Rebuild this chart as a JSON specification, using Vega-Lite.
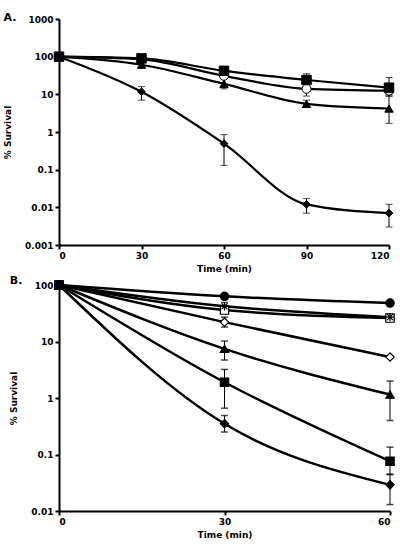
{
  "$schema": "https://vega.github.io/schema/vega-lite/v6.json",
  "padding": {"left": 3, "top": 12, "right": 8, "bottom": 0},
  "background": "white",
  "spacing": 2,
  "columns": 1,
  "align": "none",
  "resolve": {"scale": {"shape": "independent", "fill": "independent", "size": "independent"}},
  "config": {
    "font": "DejaVu Sans",
    "view": {"stroke": null},
    "axis": {
      "grid": false,
      "domainColor": "black",
      "domainWidth": 2,
      "tickColor": "black",
      "tickWidth": 2,
      "tickSize": 4,
      "labelFont": "DejaVu Sans",
      "labelFontWeight": "bold",
      "labelFontSize": 9,
      "labelColor": "black",
      "titleFont": "DejaVu Sans",
      "titleFontWeight": "bold",
      "titleFontSize": 9,
      "titleColor": "black"
    },
    "title": {"font": "DejaVu Sans", "fontWeight": "bold", "fontSize": 11, "anchor": "start", "frame": "bounds", "offset": -8, "color": "black"}
  },
  "datasets": {
    "A": [
      {"s": "a2", "t": 0, "v": 100},
      {"s": "a2", "t": 30, "v": 85},
      {"s": "a2", "t": 60, "v": 31},
      {"s": "a2", "t": 90, "v": 14, "lo": 9, "hi": 21},
      {"s": "a2", "t": 120, "v": 12.5, "lo": 9, "hi": 17},
      {"s": "a3", "t": 0, "v": 100},
      {"s": "a3", "t": 30, "v": 61, "lo": 52, "hi": 70},
      {"s": "a3", "t": 60, "v": 19, "lo": 14, "hi": 26},
      {"s": "a3", "t": 90, "v": 5.6, "lo": 4.5, "hi": 7},
      {"s": "a3", "t": 120, "v": 4.2, "lo": 1.7, "hi": 10},
      {"s": "a4", "t": 0, "v": 100},
      {"s": "a4", "t": 30, "v": 11.7, "lo": 7, "hi": 16},
      {"s": "a4", "t": 60, "v": 0.49, "lo": 0.13, "hi": 0.85},
      {"s": "a4", "t": 90, "v": 0.012, "lo": 0.007, "hi": 0.017},
      {"s": "a4", "t": 120, "v": 0.007, "lo": 0.003, "hi": 0.012},
      {"s": "a1", "t": 0, "v": 100},
      {"s": "a1", "t": 30, "v": 90},
      {"s": "a1", "t": 60, "v": 42},
      {"s": "a1", "t": 90, "v": 24, "lo": 16, "hi": 35},
      {"s": "a1", "t": 120, "v": 15, "lo": 9, "hi": 28}
    ],
    "B": [
      {"s": "b1", "t": 0, "v": 100},
      {"s": "b1", "t": 30, "v": 63},
      {"s": "b1", "t": 60, "v": 48},
      {"s": "b3", "t": 0, "v": 100},
      {"s": "b3", "t": 30, "v": 36},
      {"s": "b3", "t": 60, "v": 26},
      {"s": "b2", "t": 0, "v": 100},
      {"s": "b2", "t": 30, "v": 42, "lo": 36, "hi": 49},
      {"s": "b2", "t": 60, "v": 27, "lo": 24, "hi": 30},
      {"s": "b4", "t": 0, "v": 100},
      {"s": "b4", "t": 30, "v": 22, "lo": 18, "hi": 27},
      {"s": "b4", "t": 60, "v": 5.3},
      {"s": "b5", "t": 0, "v": 100},
      {"s": "b5", "t": 30, "v": 7.4, "lo": 4.7, "hi": 10.2},
      {"s": "b5", "t": 60, "v": 1.15, "lo": 0.4, "hi": 2.0},
      {"s": "b7", "t": 0, "v": 100},
      {"s": "b7", "t": 30, "v": 0.35, "lo": 0.25, "hi": 0.49},
      {"s": "b7", "t": 60, "v": 0.029, "lo": 0.013, "hi": 0.045},
      {"s": "b6", "t": 0, "v": 100},
      {"s": "b6", "t": 30, "v": 1.9, "lo": 0.66, "hi": 3.2},
      {"s": "b6", "t": 60, "v": 0.076, "lo": 0.044, "hi": 0.135}
    ]
  },
  "concat": [
    {
      "title": "A.",
      "width": 330,
      "height": 226,
      "data": {"name": "A"},
      "encoding": {
        "x": {"field": "t", "type": "quantitative", "scale": {"domain": [0, 120], "nice": false}, "axis": {"values": [0, 30, 60, 90, 120], "title": "Time (min)", "titlePadding": 4}}
      },
      "layer": [
        {
          "mark": {"type": "rule", "stroke": "black", "strokeWidth": 1},
          "encoding": {
            "y": {"field": "lo", "type": "quantitative", "scale": {"type": "log", "domain": [0.001, 1000], "nice": false}},
            "y2": {"field": "hi"}
          }
        },
        {
          "mark": {"type": "point", "shape": "M-1,0L1,0", "stroke": "black", "strokeWidth": 1, "size": 50, "filled": false},
          "encoding": {"y": {"field": "lo", "type": "quantitative"}}
        },
        {
          "mark": {"type": "point", "shape": "M-1,0L1,0", "stroke": "black", "strokeWidth": 1, "size": 50, "filled": false},
          "encoding": {"y": {"field": "hi", "type": "quantitative"}}
        },
        {
          "mark": {"type": "line", "interpolate": "monotone", "stroke": "black", "strokeWidth": 2.2},
          "encoding": {
            "y": {"field": "v", "type": "quantitative", "scale": {"type": "log", "domain": [0.001, 1000], "nice": false}, "axis": {"values": [0.001, 0.01, 0.1, 1, 10, 100, 1000], "format": "~g", "title": "% Survival", "titlePadding": 12}},
            "detail": {"field": "s"}
          }
        },
        {
          "mark": {"type": "point", "opacity": 1, "stroke": "black", "strokeWidth": 1},
          "encoding": {
            "y": {"field": "v", "type": "quantitative"},
            "shape": {"field": "s", "type": "nominal", "scale": {"domain": ["a1", "a2", "a3", "a4"], "range": ["square", "circle", "triangle-up", "diamond"]}, "legend": null},
            "fill": {"field": "s", "type": "nominal", "scale": {"domain": ["a1", "a2", "a3", "a4"], "range": ["black", "white", "black", "black"]}, "legend": null},
            "size": {"field": "s", "type": "nominal", "scale": {"domain": ["a1", "a2", "a3", "a4"], "range": [90, 60, 80, 90]}, "legend": null}
          }
        }
      ]
    },
    {
      "title": "B.",
      "width": 331,
      "height": 226,
      "data": {"name": "B"},
      "encoding": {
        "x": {"field": "t", "type": "quantitative", "scale": {"domain": [0, 60], "nice": false}, "axis": {"values": [0, 30, 60], "title": "Time (min)", "titlePadding": 4}}
      },
      "layer": [
        {
          "mark": {"type": "rule", "stroke": "black", "strokeWidth": 1},
          "encoding": {
            "y": {"field": "lo", "type": "quantitative", "scale": {"type": "log", "domain": [0.01, 100], "nice": false}},
            "y2": {"field": "hi"}
          }
        },
        {
          "mark": {"type": "point", "shape": "M-1,0L1,0", "stroke": "black", "strokeWidth": 1.5, "size": 50, "filled": false},
          "encoding": {"y": {"field": "lo", "type": "quantitative"}}
        },
        {
          "mark": {"type": "point", "shape": "M-1,0L1,0", "stroke": "black", "strokeWidth": 1.5, "size": 50, "filled": false},
          "encoding": {"y": {"field": "hi", "type": "quantitative"}}
        },
        {
          "mark": {"type": "line", "interpolate": "monotone", "stroke": "black", "strokeWidth": 2.5},
          "encoding": {
            "y": {"field": "v", "type": "quantitative", "scale": {"type": "log", "domain": [0.01, 100], "nice": false}, "axis": {"values": [0.01, 0.1, 1, 10, 100], "format": "~g", "title": "% Survival", "titlePadding": 12}},
            "detail": {"field": "s"}
          }
        },
        {
          "mark": {"type": "point", "opacity": 1, "stroke": "black", "strokeWidth": 1.2},
          "encoding": {
            "y": {"field": "v", "type": "quantitative"},
            "shape": {"field": "s", "type": "nominal", "scale": {"domain": ["b1", "b2", "b3", "b4", "b5", "b6", "b7"], "range": ["circle", "M-1,0L1,0M0,-1L0,1M-0.7,-0.7L0.7,0.7M-0.7,0.7L0.7,-0.7", "square", "diamond", "triangle-up", "square", "diamond"]}, "legend": null},
            "fill": {"field": "s", "type": "nominal", "scale": {"domain": ["b1", "b2", "b3", "b4", "b5", "b6", "b7"], "range": ["black", "white", "white", "white", "black", "black", "black"]}, "legend": null},
            "size": {"field": "s", "type": "nominal", "scale": {"domain": ["b1", "b2", "b3", "b4", "b5", "b6", "b7"], "range": [70, 70, 70, 60, 80, 110, 80]}, "legend": null}
          }
        }
      ]
    }
  ]
}
